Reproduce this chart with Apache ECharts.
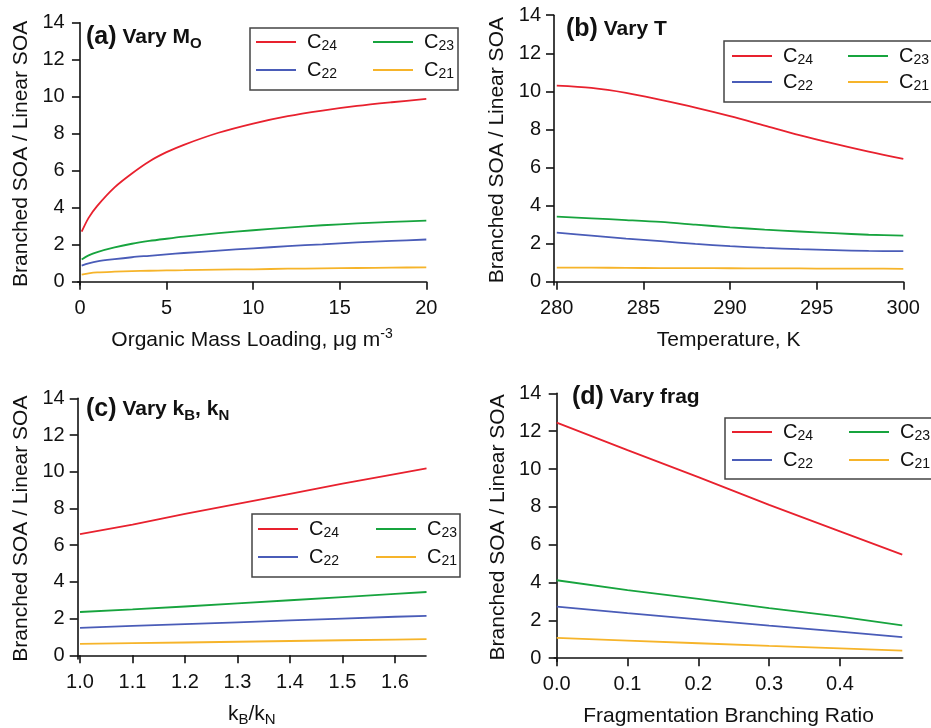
<!DOCTYPE html>
<html><head><meta charset="utf-8">
<script src="https://cdn.jsdelivr.net/npm/echarts@6/dist/echarts.min.js"></script>
<style>html,body{margin:0;padding:0;background:#fff}#c{width:931px;height:728px}</style>
</head><body><div id="c"></div>
<script>
// ---- data ----
const seriesNames = ['C24', 'C23', 'C22', 'C21'];
const colors = ['#e8212e', '#17a43e', '#4a5cb8', '#f6b42a'];
const yTicks = [0, 2, 4, 6, 8, 10, 12, 14];

// (a) Vary Mo
const xA = [0.1, 0.5, 1, 2, 3, 4, 5, 6, 8, 10, 12, 14, 16, 18, 20];
const aC24 = [2.7, 3.45, 4.1, 5.1, 5.85, 6.5, 7.0, 7.4, 8.05, 8.55, 8.95, 9.25, 9.5, 9.7, 9.88];
const aC23 = [1.2, 1.42, 1.6, 1.85, 2.05, 2.2, 2.32, 2.43, 2.62, 2.78, 2.92, 3.05, 3.15, 3.23, 3.3];
const aC22 = [0.87, 0.99, 1.1, 1.22, 1.32, 1.4, 1.48, 1.55, 1.68, 1.8, 1.92, 2.02, 2.12, 2.2, 2.28];
const aC21 = [0.38, 0.45, 0.5, 0.54, 0.57, 0.59, 0.61, 0.62, 0.65, 0.67, 0.7, 0.72, 0.74, 0.76, 0.77];
const xTicksA = [0, 5, 10, 15, 20];

// (b) Vary T
const xB = [280, 282, 284, 286, 288, 290, 292, 294, 296, 298, 300];
const bC24 = [10.3, 10.18, 9.92, 9.55, 9.15, 8.7, 8.2, 7.7, 7.25, 6.83, 6.45];
const bC23 = [3.42, 3.33, 3.24, 3.14, 3.0, 2.86, 2.74, 2.64, 2.55, 2.47, 2.42];
const bC22 = [2.58, 2.42, 2.27, 2.13, 1.99, 1.87, 1.78, 1.71, 1.66, 1.62, 1.61];
const bC21 = [0.74, 0.74, 0.73, 0.72, 0.72, 0.71, 0.7, 0.7, 0.69, 0.69, 0.68];
const xTicksB = [280, 285, 290, 295, 300];

// (c) Vary kB, kN
const xC = [1.0, 1.1, 1.2, 1.3, 1.4, 1.5, 1.6, 1.66];
const cC24 = [6.6, 7.12, 7.7, 8.25, 8.8, 9.35, 9.87, 10.18];
const cC23 = [2.36, 2.5, 2.66, 2.83, 3.0, 3.17, 3.35, 3.45];
const cC22 = [1.5, 1.6, 1.7, 1.8, 1.9, 2.0, 2.1, 2.15];
const cC21 = [0.62, 0.66, 0.7, 0.74, 0.78, 0.82, 0.86, 0.88];
const xTicksC = [1.0, 1.1, 1.2, 1.3, 1.4, 1.5, 1.6];

// (d) Vary frag
const xD = [0, 0.1, 0.2, 0.3, 0.4, 0.488];
const dC24 = [12.45, 11.0, 9.57, 8.1, 6.7, 5.47];
const dC23 = [4.12, 3.6, 3.13, 2.65, 2.2, 1.74];
const dC22 = [2.73, 2.38, 2.05, 1.72, 1.41, 1.11];
const dC21 = [1.07, 0.93, 0.79, 0.65, 0.52, 0.4];
const xTicksD = [0, 0.1, 0.2, 0.3, 0.4];

// ---- layout ----
const FONT = 'Liberation Sans, Arial, Helvetica, sans-serif';
const panels = [
  { grid: {left: 77.7, top: 22.7, width: 348.6, height: 262.3}, xmin: -0.13, xmax: 20, ymin: -0.18,
    xs: xA, ys: [aC24, aC23, aC22, aC21], xt: xTicksA, dec: 0, smooth: true,
    xname: '{t|Organic Mass Loading, μg m}{sup|-3}' },
  { grid: {left: 554, top: 15.2, width: 349.3, height: 269.8}, xmin: 279.84, xmax: 300, ymin: -0.17,
    xs: xB, ys: [bC24, bC23, bC22, bC21], xt: xTicksB, dec: 0, smooth: true,
    xname: '{t|Temperature, K}' },
  { grid: {left: 77.7, top: 398.3, width: 348.3, height: 264.4}, xmin: 0.9956, xmax: 1.659, ymin: -0.2,
    xs: xC, ys: [cC24, cC23, cC22, cC21], xt: xTicksC, dec: 1, smooth: false,
    xname: '{t|k}{s|B}{t|/k}{s|N}' },
  { grid: {left: 554.3, top: 393.3, width: 348.4, height: 268.7}, xmin: -0.0034, xmax: 0.4886, ymin: -0.174,
    xs: xD, ys: [dC24, dC23, dC22, dC21], xt: xTicksD, dec: 1, smooth: false,
    xname: '{t|Fragmentation Branching Ratio}' }
];

const nameRich = {
  t: {fontSize: 21, fontFamily: FONT, color: '#111', lineHeight: 26},
  s: {fontSize: 15, fontFamily: FONT, color: '#111', lineHeight: 8, verticalAlign: 'bottom'},
  sup: {fontSize: 14, fontFamily: FONT, color: '#111', lineHeight: 12, verticalAlign: 'top'}
};

const grid = [], xAxis = [], yAxis = [], series = [];
panels.forEach((p, i) => {
  grid.push(Object.assign({containLabel: false}, p.grid));
  xAxis.push({
    type: 'value', gridIndex: i, min: p.xmin, max: p.xmax,
    axisLine: {show: true, lineStyle: {color: '#111', width: 1.6}},
    axisTick: {show: true, length: 8, lineStyle: {color: '#111', width: 1.6}, customValues: p.xt},
    axisLabel: {customValues: p.xt, margin: 13, fontSize: 20, fontFamily: FONT, color: '#111',
      formatter: v => Number(v).toFixed(p.dec)},
    splitLine: {show: false},
    name: p.xname, nameLocation: 'middle', nameGap: 42,
    nameTextStyle: {rich: nameRich}
  });
  yAxis.push({
    type: 'value', gridIndex: i, min: p.ymin, max: 14,
    axisLine: {show: true, lineStyle: {color: '#111', width: 1.6}},
    axisTick: {show: true, length: 8, lineStyle: {color: '#111', width: 1.6}, customValues: yTicks},
    axisLabel: {customValues: yTicks, margin: 13, fontSize: 20, fontFamily: FONT, color: '#111'},
    splitLine: {show: false},
    name: 'Branched SOA / Linear SOA', nameLocation: 'middle', nameGap: 46,
    nameTextStyle: {fontSize: 21, fontFamily: FONT, color: '#111'}
  });
  p.ys.forEach((arr, k) => {
    series.push({
      type: 'line', name: seriesNames[k], xAxisIndex: i, yAxisIndex: i,
      data: p.xs.map((x, j) => [x, arr[j]]),
      showSymbol: false, symbol: 'none', smooth: p.smooth ? 0.3 : false,
      lineStyle: {color: colors[k], width: 1.8}, itemStyle: {color: colors[k]},
      z: 2 + (3 - k)
    });
  });
});

const legendCols = [
  {left: 256, top: 32, gap: 7, items: ['C24', 'C22']}, {left: 373, top: 32, gap: 7, items: ['C23', 'C21']},
  {left: 732, top: 46, gap: 5, items: ['C24', 'C22']}, {left: 848, top: 46, gap: 5, items: ['C23', 'C21']},
  {left: 258, top: 519, gap: 7, items: ['C24', 'C22']}, {left: 376, top: 519, gap: 7, items: ['C23', 'C21']},
  {left: 732, top: 422, gap: 7, items: ['C24', 'C22']}, {left: 849, top: 422, gap: 7, items: ['C23', 'C21']}
];
const legend = legendCols.map(c => ({
  orient: 'vertical', left: c.left, top: c.top, padding: 0, itemGap: c.gap,
  itemWidth: 40, itemHeight: 2, icon: 'rect', data: c.items, selectedMode: false,
  formatter: n => '{c|C}{s|' + n.slice(1) + '}',
  textStyle: {rich: {
    c: {fontSize: 20, fontFamily: FONT, color: '#111', lineHeight: 22, padding: [0, 0, 0, 6]},
    s: {fontSize: 14, fontFamily: FONT, color: '#111', lineHeight: 8, verticalAlign: 'bottom'}
  }}
}));

const titleRich = {
  p: {fontSize: 25, fontWeight: 'bold', fontFamily: FONT, color: '#111', lineHeight: 28},
  v: {fontSize: 21, fontWeight: 'bold', fontFamily: FONT, color: '#111', lineHeight: 28},
  s: {fontSize: 15, fontWeight: 'bold', fontFamily: FONT, color: '#111', lineHeight: 10, verticalAlign: 'bottom'}
};
const titles = [
  {left: 86, top: 23, text: '{p|(a)}{v| Vary M}{s|O}'},
  {left: 566, top: 15, text: '{p|(b)}{v| Vary T}'},
  {left: 86, top: 395, text: '{p|(c)}{v| Vary k}{s|B}{v|, k}{s|N}'},
  {left: 572, top: 383, text: '{p|(d)}{v| Vary frag}'}
].map(t => Object.assign({padding: 0, textStyle: {rich: titleRich}}, t));

const boxes = [
  {x: 250, y: 28, width: 208, height: 62},
  {x: 724, y: 41, width: 220, height: 61},
  {x: 252, y: 514, width: 208, height: 63},
  {x: 725, y: 418, width: 220, height: 61}
];
const graphic = boxes.map(b => ({
  type: 'rect', shape: b, style: {fill: 'none', stroke: '#444', lineWidth: 1.5}, z: 10
}));

const chart = echarts.init(document.getElementById('c'), null, {renderer: 'canvas'});
chart.setOption({
  animation: false, backgroundColor: '#fff',
  title: titles, grid, xAxis, yAxis, series, legend, graphic
});
</script></body></html>
